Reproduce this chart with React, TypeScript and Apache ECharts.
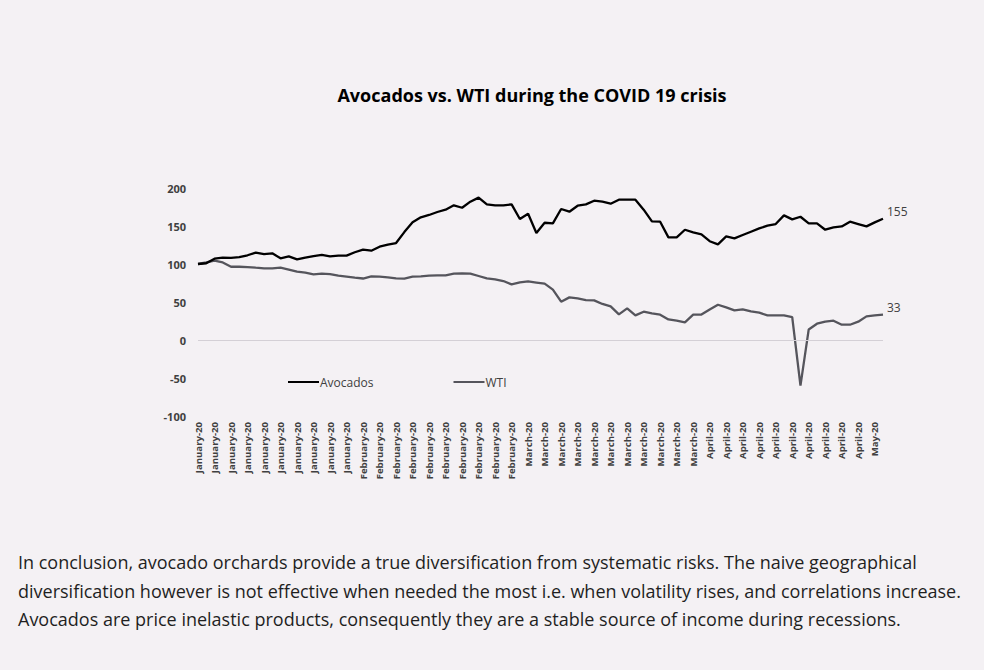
import React, { useEffect, useRef } from "react";
import * as echarts from "echarts";

const monthNames = ["January-20", "February-20", "March-20", "April-20", "May-20"];
const pointsPerMonth = [20, 20, 22, 20, 2];

const avocados = [
  100, 101, 107, 108.5, 108, 109, 111.5, 115, 113, 114,
  107.5, 110, 106, 108.5, 110.5, 112, 110, 111, 111, 115.5,
  119, 117.5, 122.8, 125.4, 127.6, 142, 154.8, 161.4, 164.5, 168.4,
  171.5, 177.2, 174, 182, 187.3, 178.5, 177.2, 177.2, 178.5, 159.2,
  166.2, 140.8, 154.3, 153.5, 172.4, 168.8, 176.7, 178.5, 183.3, 182,
  179.3, 184.6, 184.6, 184.6, 171.5, 156, 155.7, 135, 135, 145.1,
  141.6, 139, 130, 125.8, 136.3, 133.7, 138.1, 142.5, 146.8, 150.4,
  152.6, 164, 158.7, 162.2, 153.5, 153.5, 145.1, 148.2, 149.5, 155.7,
  152.6, 149.5, 154.8, 159.5,
];

const wti = [
  100, 102.1, 104.3, 102.1, 96.4, 96.4, 96, 95.1, 94.3, 94.3,
  95.1, 92.5, 89.9, 88.6, 86.4, 87.3, 86.8, 84.6, 83.3, 82,
  80.9, 83.7, 83.3, 82.4, 81.1, 80.7, 83.3, 83.7, 84.6, 85,
  85, 87.3, 87.7, 87.3, 84.2, 81.1, 79.8, 77.6, 73.2, 75.8,
  77.1, 75.6, 74.1, 66.2, 50.4, 56.1, 54.7, 52.6, 52.1, 47.4,
  44.3, 33.7, 41.6, 32.4, 37.2, 35, 33.3, 27.1, 25.4, 23.2,
  33.3, 33.5, 40.2, 46.4, 42.9, 39, 40.3, 37.6, 35.9, 32.4,
  32.4, 32.4, 30.2, -60, 13.9, 21.4, 24.1, 25.4, 20.1, 20.1,
  24.1, 31.1, 32.4, 33.3,
];

const seriesNames = ["Avocados", "WTI"];
const seriesColors = ["#000000", "#55555c"];
const endLabelTexts = ["155", "33"];
const yTicks = { min: -100, max: 200, interval: 50 };

const chartTitle = "Avocados vs. WTI during the COVID 19 crisis";
const paragraphLines = [
  "In conclusion, avocado orchards provide a true diversification from systematic risks. The naive geographical",
  "diversification however is not effective when needed the most i.e. when volatility rises, and correlations increase.",
  "Avocados are price inelastic products, consequently they are a stable source of income during recessions.",
];

const categories: string[] = [];
monthNames.forEach((m, i) => {
  for (let k = 0; k < pointsPerMonth[i]; k++) categories.push(m);
});

export default function App() {
  const ref = useRef<HTMLDivElement>(null);

  useEffect(() => {
    if (!ref.current) return;
    const chart = echarts.init(ref.current, null, { renderer: "svg" });
    const seriesData = [avocados, wti];
    chart.setOption({
      animation: false,
      backgroundColor: "#f4f1f4",
      textStyle: { fontFamily: "'Open Sans', sans-serif" },
      grid: { left: 198, right: 101, top: 188, bottom: 254, containLabel: false },
      legend: {
        data: seriesNames,
        left: 283,
        top: 371,
        icon: "rect",
        itemWidth: 31,
        itemHeight: 2,
        itemGap: 80,
        textStyle: { color: "#404040", fontSize: 12, fontFamily: "'Open Sans', sans-serif", padding: [0, 0, 0, -4] },
      },
      xAxis: {
        type: "category",
        data: categories,
        boundaryGap: false,
        axisLine: { show: false },
        axisTick: { show: false },
        axisLabel: {
          interval: 1,
          rotate: 90,
          margin: 6,
          color: "#404040",
          fontSize: 9.6,
          fontWeight: "bold",
          fontFamily: "'Open Sans', sans-serif",
        },
        splitLine: { show: false },
      },
      yAxis: {
        type: "value",
        min: yTicks.min,
        max: yTicks.max,
        interval: yTicks.interval,
        axisLine: { show: false },
        axisTick: { show: false },
        splitLine: { show: false },
        axisLabel: {
          margin: 12,
          color: "#404040",
          fontSize: 11,
          fontWeight: "bold",
          fontFamily: "'Open Sans', sans-serif",
        },
      },
      series: seriesNames.map((name, i) => ({
        name,
        type: "line",
        data: seriesData[i],
        symbol: "none",
        lineStyle: { color: seriesColors[i], width: 2.3 },
        itemStyle: { color: seriesColors[i] },
        endLabel: {
          show: true,
          formatter: () => endLabelTexts[i],
          color: "#404040",
          fontSize: 12,
          distance: 4,
          offset: [0, -7],
          fontFamily: "'Open Sans', sans-serif",
        },
        markLine:
          i === 0
            ? {
                silent: true,
                symbol: "none",
                label: { show: false },
                lineStyle: { color: "#d4d0d6", width: 1, type: "solid" },
                data: [{ yAxis: 0 }],
              }
            : undefined,
        z: i === 0 ? 3 : 2,
      })),
      graphic: [
        {
          type: "text",
          x: 532,
          y: 95,
          style: {
            text: chartTitle,
            align: "center",
            verticalAlign: "middle",
            fontSize: 18,
            fontWeight: "bold",
            fontFamily: "'Open Sans', sans-serif",
            fill: "#000000",
          },
        },
        ...paragraphLines.map((line, i) => ({
          type: "text",
          x: 18,
          y: 562 + i * 28.5,
          style: {
            text: line,
            align: "left",
            verticalAlign: "middle",
            fontSize: 18,
            fontFamily: "'Open Sans', sans-serif",
            fill: "#1f1f1f",
          },
        })),
      ],
    });
    return () => chart.dispose();
  }, []);

  return (
    <div
      ref={ref}
      style={{ position: "fixed", left: 0, top: 0, width: 984, height: 670 }}
    />
  );
}
